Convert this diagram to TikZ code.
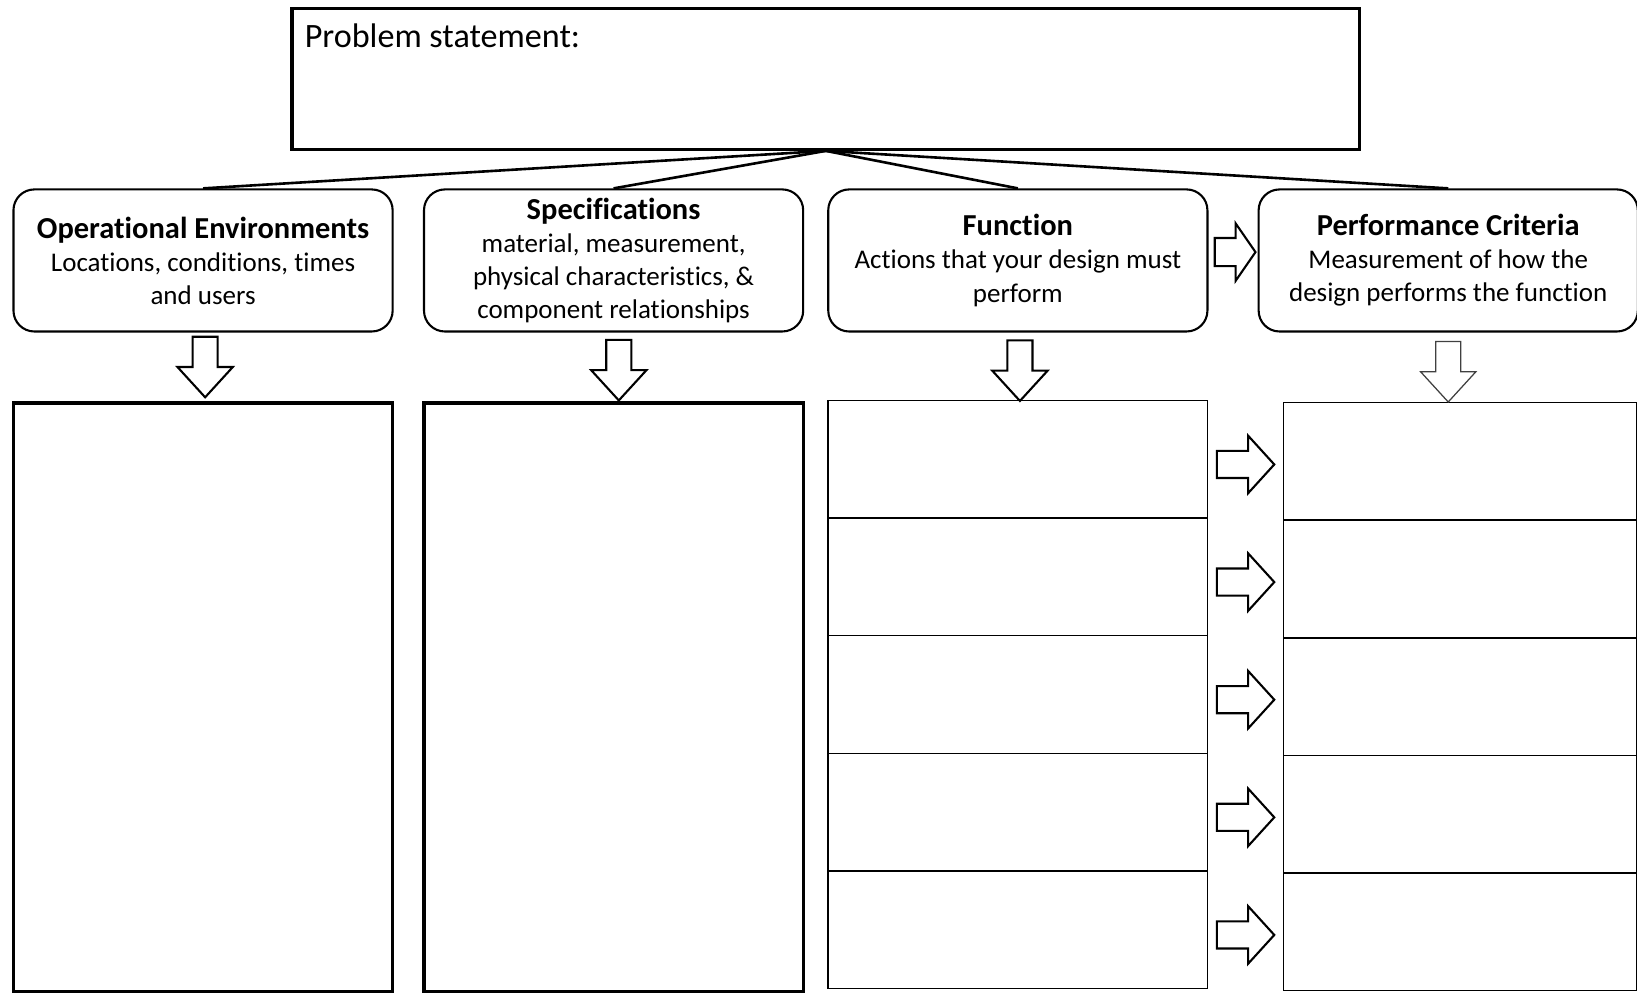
\documentclass[tikz,border=0pt]{standalone}
\usepackage{fontspec}
\setmainfont[Ligatures = NoCommon, RawFeature = {-calt}]{Carlito}
\usetikzlibrary{positioning, calc}
\tikzstyle{problembox} = [rectangle, draw = black, line width = 0.03cm,
  minimum width = 10.22cm, minimum height = 1.35cm]
\tikzstyle{headbox} = [
  rectangle, rounded corners = 0.2cm,
  minimum width = 3.63cm, minimum height = 1.36cm, inner sep = 0,
  draw = black, line width = 0.02cm, align = center,
  font = \fontsize{7.35}{9.0}\selectfont
]
\tikzstyle{colbox} = [rectangle, minimum width = 3.63cm, minimum height = 5.63cm,
  draw = black, line width = 0.03cm]
\tikzstyle{rowbox} = [rectangle, minimum width = 3.63cm, minimum height = 1.126cm,
  draw = black, line width = 0.015cm, outer sep = 0]
\tikzstyle{perfrow} = [rowbox, minimum width = 3.38cm]
\tikzstyle{stem} = [line width = 0.025cm]
\tikzstyle{blockarrow} = [draw = black, line width = 0.02cm, fill = white]
\tikzstyle{thinarrow} = [draw = black!75, line width = 0.012cm, fill = white]
\newcommand{\headtitle}[1]{{\fontsize{8.3}{9.0}\selectfont\bfseries #1}}
\tikzset{
  pics/downarrow/.style = {code = {
    \draw [pic actions] (-12, 29) -- (-12, 0) -- (-26.5, 0) -- (0, -29) --
      (26.5, 0) -- (12, 0) -- (12, 29) -- cycle;
  }},
  pics/rightarrow/.style = {code = {
    \draw [pic actions] (-27.5, 13) -- (2.5, 13) -- (2.5, 27.5) -- (27.5, 0) --
      (2.5, -27.5) -- (2.5, -13) -- (-27.5, -13) -- cycle;
  }},
  pics/sidearrow/.style = {code = {
    \draw [pic actions] (-19.5, 13.5) -- (0.5, 13.5) -- (0.5, 27.5) -- (19.5, 0) --
      (0.5, -27.5) -- (0.5, -13.5) -- (-19.5, -13.5) -- cycle;
  }}
}
\begin{document}
\begin{tikzpicture}[x = 0.01cm, y = 0.01cm]
    \useasboundingbox (0, 0) rectangle (1568, 955);
    % problem
    \node [problembox] (problem) at (791, 879.5) {};
    \node [anchor = north west, inner sep = 0, font = \fontsize{9.3}{11}\selectfont]
      (problem-label) at ([xshift = 0.13cm, yshift = -0.16cm] problem.north west)
      {Problem statement:};
    % headers
    \node [headbox] (head-op) at (194.5, 705.5)
      {\headtitle{Operational Environments}\\Locations, conditions, times\\and users};
    \node [headbox, right = 0.28cm of head-op] (head-spec)
      {\headtitle{Specifications}\\material, measurement,\\physical characteristics, \&\\component relationships};
    \node [headbox, right = 0.22cm of head-spec] (head-func)
      {\headtitle{Function}\\Actions that your design must\\perform};
    \node [headbox, right = 0.47cm of head-func] (head-perf)
      {\headtitle{Performance Criteria}\\Measurement of how the\\design performs the function};
    % columns
    \node [colbox, below = 0.66cm of head-op] (box-op) {};
    \node [colbox, below = 0.66cm of head-spec] (box-spec) {};
    % rows
    \node [rowbox, below = 0.65cm of head-func] (func-1) {};
    \node [perfrow, right = 0.73cm of func-1, yshift = -0.02cm] (perf-1) {};
    \foreach \i [count = \j from 2] in {1, ..., 4} {
      \node [rowbox, below = 0cm of func-\i] (func-\j) {};
      \node [perfrow, below = 0cm of perf-\i] (perf-\j) {};
    }

    \draw [stem] (problem.south) -- (head-op.north);
    \draw [stem] (problem.south) -- (head-spec.north);
    \draw [stem] (problem.south) -- (head-func.north);
    \draw [stem] (problem.south) -- (head-perf.north);
    \pic [blockarrow] at ($(head-op.south)!0.5!(box-op.north) + (2, 0)$) {downarrow};
    \pic [blockarrow] at ($(head-spec.south)!0.5!(box-spec.north) + (5, -3)$) {downarrow};
    \pic [blockarrow] at ($(head-func.south)!0.5!(func-1.north) + (2, -4)$) {downarrow};
    \pic [thinarrow] at ($(head-perf.south)!0.5!(head-perf.south |- perf-1.north) + (0, -4)$) {downarrow};
    \pic [blockarrow] at ($(head-func.east)!0.5!(head-perf.west) + (2, 8)$) {sidearrow};
    \foreach \i in {1, ..., 5}
      \pic [blockarrow] at ($(func-\i.east)!0.5!(perf-\i.west) + (0, -4)$) {rightarrow};
  \end{tikzpicture}
\end{document}
